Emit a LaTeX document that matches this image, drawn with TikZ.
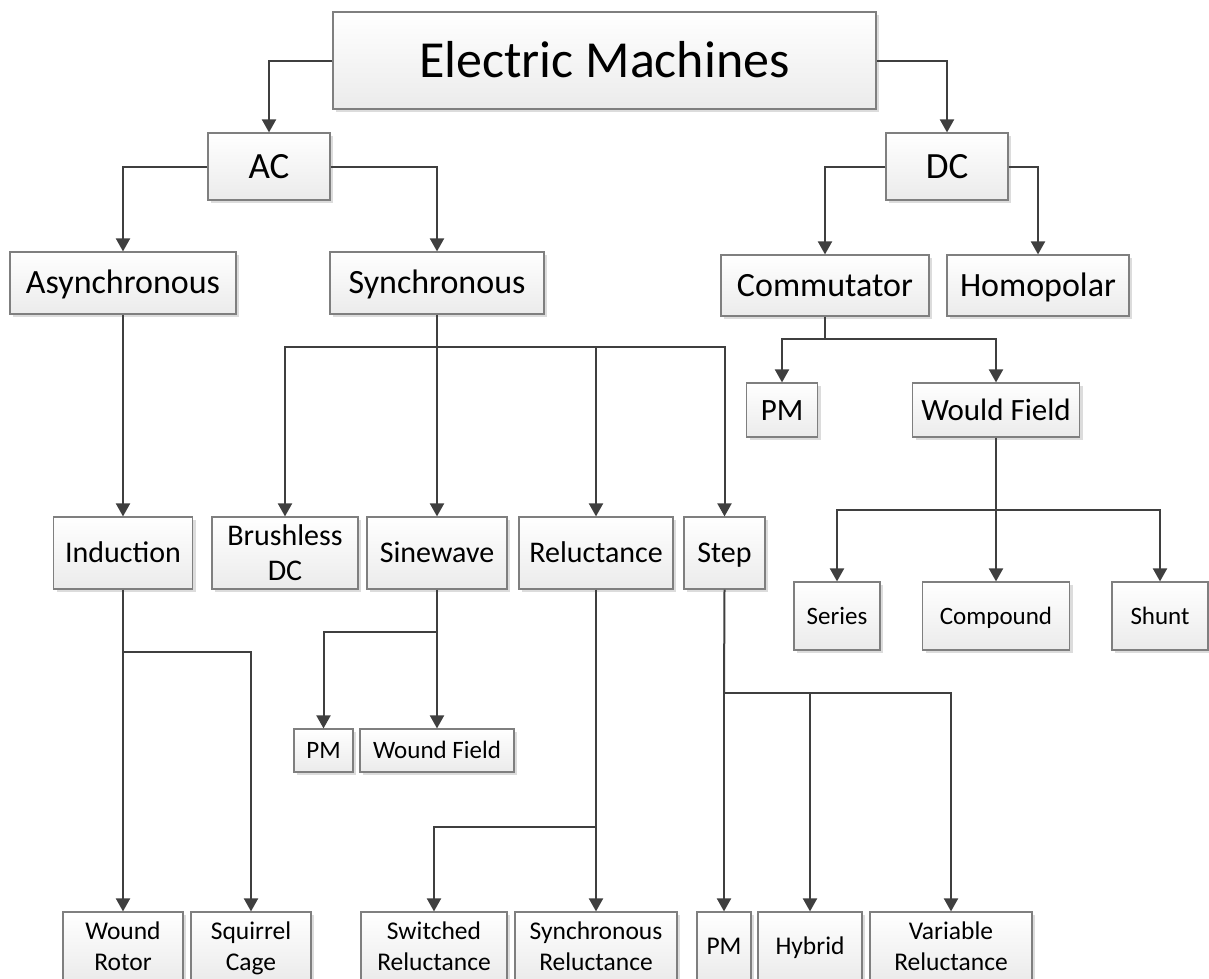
\documentclass[tikz,border=0pt]{standalone}
\usepackage{fontspec}
\setmainfont{Carlito}
\usetikzlibrary{arrows.meta,shadows}
\definecolor{lineC}{HTML}{3F3F3F}
\definecolor{borderC}{HTML}{7F7F7F}
\definecolor{botC}{HTML}{EBEBEB}
\definecolor{shadowC}{HTML}{DCDCDC}
\newcommand\twoln[2]{\vbox{\halign{\hfil##\hfil\cr #1\cr #2\cr}}}
\begin{document}
\begin{tikzpicture}[x=1pt,y=-1pt,
  box/.style={draw=borderC, line width=1.2pt, top color=white, bottom color=botC,
    drop shadow={shadow xshift=3pt, shadow yshift=-3pt, fill=shadowC, opacity=1},
    inner sep=0pt, anchor=center, text depth=0pt},
  fA/.style={font=\fontsize{52}{60}\selectfont, text height=33.5pt},
  fB/.style={font=\fontsize{37}{44}\selectfont, text height=23.8pt},
  fC/.style={font=\fontsize{34}{40}\selectfont, text height=21.9pt},
  fE/.style={font=\fontsize{31}{37}\selectfont, text height=20pt},
  fF/.style={font=\fontsize{25}{30}\selectfont, text height=16.1pt},
  fM/.style={font=\fontsize{30}{35}\selectfont, text height=19.3pt},
  fMM/.style={font=\fontsize{30}{35}\selectfont, text height=54.3pt},
  fH/.style={font=\fontsize{25.5}{31}\selectfont, text height=16.4pt},
  fHH/.style={font=\fontsize{25.5}{31}\selectfont, text height=47.4pt},
  conn/.style={draw=lineC, line width=2pt},
  arr/.style={conn, -{Triangle[length=13pt,width=14pt]}},
]
\useasboundingbox (0,0) rectangle (1209,978);
\fill[white] (0,0) rectangle (1209,978);

% level 0-1
\node[box,fA,minimum width=543pt,minimum height=97pt] (EM) at (604.5,60.5) {Electric Machines};
\node[box,fB,minimum width=122pt,minimum height=67pt] (AC) at (269,166.5) {AC};
\node[box,fB,minimum width=122pt,minimum height=67pt] (DC) at (947,166.5) {DC};

% level 2
\node[box,fC,minimum width=226pt,minimum height=62pt] (Async) at (123,283) {Asynchronous};
\node[box,fC,minimum width=214pt,minimum height=62pt] (Sync) at (437,283) {Synchronous};
\node[box,fC,minimum width=208pt,minimum height=61pt] (Comm) at (825,285.5) {Commutator};
\node[box,fC,minimum width=182pt,minimum height=61pt] (Homo) at (1038,285.5) {Homopolar};

% DC children
\node[box,fE,minimum width=71pt,minimum height=54pt] (PMdc) at (782,410) {PM};
\node[box,fE,minimum width=167pt,minimum height=54pt] (WF) at (996,410) {Would Field};
\node[box,fF,minimum width=86pt,minimum height=68pt] (Series) at (837,616) {Series};
\node[box,fF,minimum width=147pt,minimum height=68pt] (Compound) at (996,616) {Compound};
\node[box,fF,minimum width=96pt,minimum height=68pt] (Shunt) at (1160,616) {Shunt};

% middle row
\node[box,fM,minimum width=139pt,minimum height=72pt] (Ind) at (123,553) {Induction};
\node[box,fMM,minimum width=146pt,minimum height=72pt] (BDC) at (285,553) {\twoln{Brushless}{DC}};
\node[box,fM,minimum width=140pt,minimum height=72pt] (Sine) at (437,553) {Sinewave};
\node[box,fM,minimum width=154pt,minimum height=72pt] (Rel) at (596,553) {Reluctance};
\node[box,fM,minimum width=81pt,minimum height=72pt] (Step) at (724.5,553) {Step};

% sinewave children
\node[box,fF,minimum width=59pt,minimum height=43pt] (PMs) at (323.5,750.5) {PM};
\node[box,fF,minimum width=154pt,minimum height=43pt] (WoF) at (437,750.5) {Wound Field};

% bottom row
\node[box,fHH,minimum width=120pt,minimum height=69pt] (WR) at (123,946.5) {\twoln{Wound}{Rotor}};
\node[box,fHH,minimum width=120pt,minimum height=69pt] (SC) at (251,946.5) {\twoln{Squirrel}{Cage}};
\node[box,fHH,minimum width=146pt,minimum height=69pt] (SwR) at (434,946.5) {\twoln{Switched}{Reluctance}};
\node[box,fHH,minimum width=162pt,minimum height=69pt] (SyR) at (596,946.5) {\twoln{Synchronous}{Reluctance}};
\node[box,fH,minimum width=54pt,minimum height=69pt] (PMst) at (724,946.5) {PM};
\node[box,fH,minimum width=104pt,minimum height=69pt] (Hyb) at (810,946.5) {Hybrid};
\node[box,fHH,minimum width=162pt,minimum height=69pt] (VR) at (951,946.5) {\twoln{Variable}{Reluctance}};

% junctions
\coordinate (sj) at (437,347);
\coordinate (cj) at (825,339);
\coordinate (wj) at (996,510);
\coordinate (ij) at (123,652);
\coordinate (swj) at (437,632);
\coordinate (rj) at (596,827);
\coordinate (stj) at (724,693);

% connectors
\draw[arr] (EM.west) -| (AC.north);
\draw[arr] (EM.east) -| (DC.north);
\draw[arr] (AC.west) -| (Async.north);
\draw[arr] (AC.east) -| (Sync.north);
\draw[arr] (DC.west) -| (Comm.north);
\draw[arr] (DC.east) -| (Homo.north);
\draw[arr] (Async.south) -- (Ind.north);

\draw[conn] (Sync.south) -- (sj);
\draw[arr] (sj) -| (BDC.north);
\draw[arr] (sj) -- (Sine.north);
\draw[arr] (sj) -| (Rel.north);
\draw[arr] (sj) -| (Step.north);

\draw[conn] (Comm.south) -- (cj);
\draw[arr] (cj) -| (PMdc.north);
\draw[arr] (cj) -| (WF.north);

\draw[conn] (WF.south) -- (wj);
\draw[arr] (wj) -| (Series.north);
\draw[arr] (wj) -- (Compound.north);
\draw[arr] (wj) -| (Shunt.north);

\draw[conn] (Ind.south) -- (ij);
\draw[arr] (ij) -- (WR.north);
\draw[arr] (ij) -| (SC.north);

\draw[conn] (Sine.south) -- (swj);
\draw[arr] (swj) -| (PMs.north);
\draw[arr] (swj) -- (WoF.north);

\draw[conn] (Rel.south) -- (rj);
\draw[arr] (rj) -| (SwR.north);
\draw[arr] (rj) -- (SyR.north);

\draw[conn] (Step.south) -- (stj);
\draw[arr] (stj) -- (PMst.north);
\draw[arr] (stj) -| (Hyb.north);
\draw[arr] (stj) -| (VR.north);
\end{tikzpicture}
\end{document}
